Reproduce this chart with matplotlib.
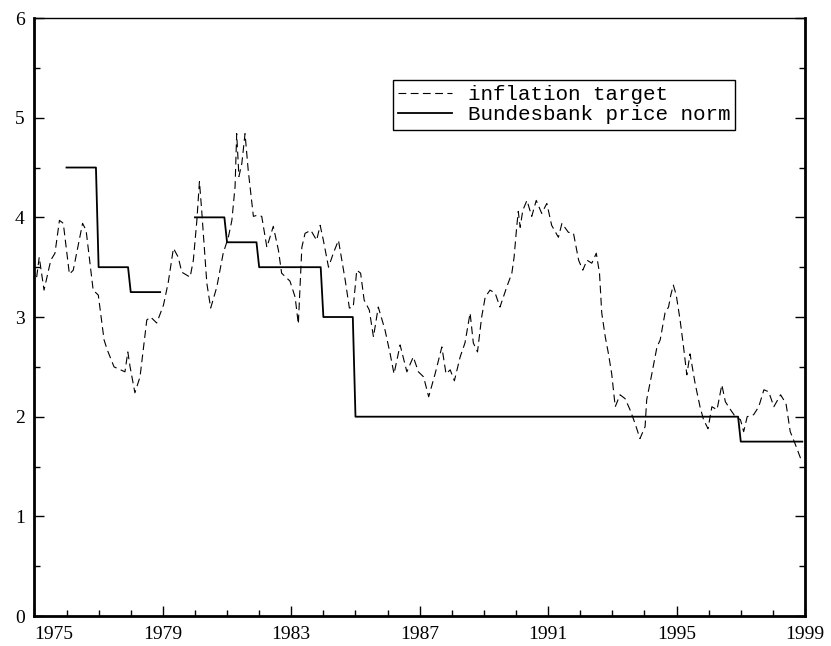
import numpy as np
import matplotlib
matplotlib.use("Agg")
import matplotlib.pyplot as plt

# inflation target (decimal years)
t_infl = [1975.07, 1975.15, 1975.30, 1975.51, 1975.64, 1975.78, 1975.90, 1976.09, 1976.21, 1976.50,
          1976.61, 1976.83, 1976.99, 1977.17, 1977.27, 1977.48, 1977.82, 1977.91, 1977.98, 1978.13,
          1978.29, 1978.50, 1978.62, 1978.81, 1979.02, 1979.17, 1979.33, 1979.48, 1979.59, 1979.85,
          1979.95, 1980.06, 1980.14, 1980.21, 1980.37, 1980.49, 1980.68, 1980.88, 1981.04, 1981.15,
          1981.25, 1981.30, 1981.37, 1981.46, 1981.56, 1981.66, 1981.82, 1981.93, 1982.08, 1982.24,
          1982.44, 1982.60, 1982.70, 1982.96, 1983.12, 1983.22, 1983.33, 1983.43, 1983.61, 1983.79,
          1983.90, 1984.00, 1984.16, 1984.31, 1984.47, 1984.68, 1984.81, 1984.93, 1985.04, 1985.16,
          1985.27, 1985.43, 1985.56, 1985.71, 1985.92, 1986.08, 1986.20, 1986.39, 1986.60, 1986.80,
          1986.96, 1987.12, 1987.28, 1987.48, 1987.69, 1987.82, 1987.95, 1988.08, 1988.26, 1988.41,
          1988.57, 1988.67, 1988.80, 1988.93, 1989.04, 1989.19, 1989.35, 1989.50, 1989.71, 1989.87,
          1989.94, 1990.02, 1990.07, 1990.13, 1990.21, 1990.34, 1990.49, 1990.63, 1990.80, 1990.96,
          1991.11, 1991.32, 1991.43, 1991.63, 1991.79, 1991.95, 1992.08, 1992.21, 1992.36, 1992.50,
          1992.60, 1992.67, 1992.78, 1992.88, 1992.98, 1993.09, 1993.24, 1993.40, 1993.55, 1993.71,
          1993.86, 1994.02, 1994.07, 1994.23, 1994.39, 1994.49, 1994.64, 1994.75, 1994.82, 1994.90,
          1994.99, 1995.11, 1995.21, 1995.32, 1995.42, 1995.58, 1995.73, 1995.84, 1995.98, 1996.10,
          1996.26, 1996.41, 1996.52, 1996.68, 1996.83, 1996.99, 1997.09, 1997.20, 1997.40, 1997.56,
          1997.72, 1997.87, 1998.03, 1998.24, 1998.41, 1998.54, 1998.69, 1998.90]
inflation = [3.40, 3.60, 3.27, 3.57, 3.64, 3.97, 3.94, 3.43, 3.47, 3.94,
             3.87, 3.27, 3.22, 2.77, 2.67, 2.50, 2.45, 2.65, 2.50, 2.24,
             2.40, 2.97, 3.00, 2.94, 3.12, 3.35, 3.69, 3.60, 3.45, 3.40,
             3.57, 3.97, 4.36, 4.07, 3.34, 3.09, 3.30, 3.64, 3.80, 3.97,
             4.31, 4.84, 4.41, 4.54, 4.84, 4.47, 4.01, 4.02, 4.01, 3.70,
             3.91, 3.67, 3.44, 3.36, 3.20, 2.93, 3.70, 3.84, 3.87, 3.77,
             3.92, 3.77, 3.50, 3.64, 3.77, 3.37, 3.09, 3.10, 3.47, 3.44,
             3.17, 3.07, 2.80, 3.10, 2.87, 2.63, 2.43, 2.72, 2.45, 2.60,
             2.45, 2.40, 2.20, 2.43, 2.70, 2.43, 2.47, 2.36, 2.60, 2.74,
             3.04, 2.74, 2.65, 3.00, 3.20, 3.27, 3.24, 3.10, 3.30, 3.44,
             3.60, 3.90, 4.06, 3.90, 4.07, 4.17, 4.01, 4.17, 4.04, 4.14,
             3.92, 3.80, 3.94, 3.85, 3.84, 3.57, 3.47, 3.57, 3.54, 3.64,
             3.44, 3.04, 2.80, 2.63, 2.43, 2.10, 2.22, 2.18, 2.07, 1.93,
             1.78, 1.90, 2.17, 2.43, 2.70, 2.77, 3.04, 3.10, 3.22, 3.32,
             3.22, 2.97, 2.72, 2.42, 2.63, 2.33, 2.10, 1.97, 1.88, 2.10,
             2.07, 2.32, 2.15, 2.07, 2.00, 1.97, 1.85, 2.00, 2.02, 2.10,
             2.27, 2.25, 2.10, 2.22, 2.13, 1.85, 1.73, 1.55]

# Bundesbank price norm, one value per year (nan = none announced)
norm_years = [1976, 1977, 1978, 1979, 1980, 1981, 1982, 1983, 1984, 1985, 1986, 1987,
              1988, 1989, 1990, 1991, 1992, 1993, 1994, 1995, 1996, 1997, 1998]
norm_values = [4.5, 3.5, 3.25, np.nan, 4.0, 3.75, 3.5, 3.5, 3.0, 2.0, 2.0, 2.0,
               2.0, 2.0, 2.0, 2.0, 2.0, 2.0, 2.0, 2.0, 2.0, 1.75, 1.75]

# each year drawn from January to December
xs = []
ys = []
for yr, v in zip(norm_years, norm_values):
    xs += [yr, yr + 11 / 12.]
    ys += [v, v]

plt.rcParams['font.family'] = ['Liberation Serif', 'DejaVu Serif']

fig = plt.figure(figsize=(8.31, 6.46), dpi=100)
ax = fig.add_axes([0.0414, 0.0464, 0.9273, 0.9257])

ax.plot(t_infl, inflation, color='black', lw=0.8, dashes=(7, 4), label='inflation target')
ax.plot(xs, ys, color='black', lw=1.3, label='Bundesbank price norm')

ax.set_xlim(1975, 1999)
ax.set_ylim(0, 6)

# ticks
ax.set_xticks([1975, 1979, 1983, 1987, 1991, 1995, 1999])
ax.set_xticks(range(1975, 2000), minor=True)
ax.set_yticks(range(0, 7))
ax.set_yticks(np.arange(0, 6.01, 0.5), minor=True)
ax.tick_params(which='both', direction='in', right=True, top=False, labelsize=14, width=1)
ax.tick_params(which='major', length=7, pad=7)
ax.tick_params(which='minor', length=4.5)
labs = ax.get_xticklabels()
labs[0].set_horizontalalignment('left')

for s in ['left', 'right', 'bottom']:
    ax.spines[s].set_linewidth(2.0)
ax.spines['top'].set_linewidth(1.0)

leg = ax.legend(loc='upper left', bbox_to_anchor=(0.465, 0.896), borderaxespad=0,
                prop={'family': 'Liberation Mono', 'size': 15},
                frameon=True, fancybox=False, edgecolor='black', framealpha=1,
                handlelength=2.6, borderpad=0.25, labelspacing=0.05, handletextpad=0.75)
leg.get_frame().set_linewidth(1.0)

plt.savefig('out.png', dpi=100)
